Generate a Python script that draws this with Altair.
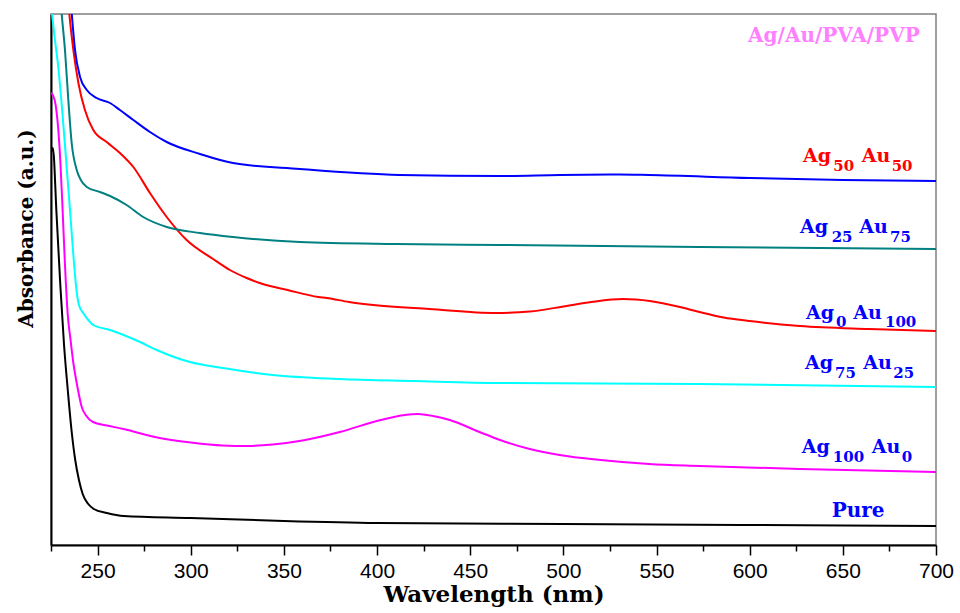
import altair as alt
import pandas as pd

# ---------------- data ----------------
x_tick_values = list(range(225, 701, 25))   # major every 50 nm (labelled), minor every 25 nm

series_names = ["Pure", "Ag100 Au0", "Ag75 Au25", "Ag0 Au100", "Ag25 Au75", "Ag50 Au50"]
series_colors = ["#000000", "#FF00FF", "#00FFFF", "#FF0000", "#008080", "#0000FF"]

pure_wl = [225, 226, 228, 230, 232, 234, 236, 238, 240, 242, 245, 248, 255, 264, 300, 350, 400, 500, 600, 700]
pure_abs = [3.93, 3.97, 3.30, 2.60, 2.00, 1.55, 1.15, 0.85, 0.65, 0.51, 0.41, 0.36, 0.32, 0.29, 0.27, 0.24,
            0.22, 0.21, 0.20, 0.19]

ag100_wl = [225, 226, 227.5, 229.5, 231, 232.5, 234, 235.5, 237, 239, 241.5, 244, 247.5, 255, 264, 282, 300,
            317, 330, 344, 360, 380, 402, 415, 422, 430, 439, 455, 466, 482, 498, 520, 546, 573, 627, 700]
ag100_abs = [4.52, 4.50, 4.40, 4.00, 3.45, 2.80, 2.30, 2.05, 1.82, 1.60, 1.38, 1.29, 1.23, 1.195, 1.16, 1.075,
             1.025, 0.995, 0.99, 1.005, 1.045, 1.13, 1.25, 1.30, 1.31, 1.29, 1.25, 1.13, 1.05, 0.96, 0.90, 0.85,
             0.81, 0.79, 0.76, 0.73]

ag75_wl = [225, 227, 228.9, 231, 233.4, 235, 237, 238.8, 240, 242.3, 245, 247.7, 256.7, 272.8, 281.7, 299.6,
           317.3, 344, 380, 420, 466, 573, 700]
ag75_abs = [5.40, 5.07, 4.78, 4.35, 3.78, 3.40, 2.90, 2.53, 2.40, 2.32, 2.25, 2.20, 2.15, 2.03, 1.95, 1.83,
            1.77, 1.70, 1.66, 1.64, 1.62, 1.61, 1.58]

ag0_wl = [232, 234.8, 237, 239.7, 243.2, 247.7, 254.9, 262, 269.2, 278.1, 287.1, 297.8, 312, 321, 330, 337,
          352, 368.5, 373, 385, 398, 428, 464, 482, 500, 515, 532, 546.5, 562.6, 573, 586, 600, 627, 664, 700]
ag0_abs = [6.05, 5.32, 4.95, 4.62, 4.35, 4.15, 4.03, 3.92, 3.78, 3.52, 3.28, 3.05, 2.86, 2.75, 2.67, 2.62,
           2.55, 2.48, 2.47, 2.43, 2.40, 2.36, 2.32, 2.335, 2.385, 2.43, 2.46, 2.44, 2.38, 2.33, 2.275, 2.24,
           2.19, 2.16, 2.14]

ag25_wl = [228, 230.7, 232.5, 234.3, 236.1, 238.8, 241, 244.2, 251.3, 256.7, 265.6, 274.5, 287.1, 305, 322.7,
           358.6, 410, 466, 573, 700]
ag25_abs = [6.05, 5.32, 4.95, 4.45, 4.02, 3.75, 3.65, 3.58, 3.53, 3.49, 3.40, 3.28, 3.18, 3.12, 3.08, 3.03,
            3.01, 3.00, 2.98, 2.96]

ag50_wl = [233, 236.1, 237.9, 240.6, 244.2, 249.5, 256.7, 262, 269.2, 278.1, 287.1, 305, 322.7, 358.6, 412,
           466, 498, 530, 546, 600, 650, 700]
ag50_abs = [6.05, 5.32, 4.95, 4.68, 4.55, 4.47, 4.42, 4.35, 4.25, 4.13, 4.03, 3.91, 3.82, 3.76, 3.70, 3.69,
            3.70, 3.705, 3.70, 3.67, 3.65, 3.64]

# labels: pieces (main text / subscripts), anchored at data coordinates
label_text = ["Ag/Au/PVA/PVP",
              "Ag", "50", "Au", "50",
              "Ag", "25", "Au", "75",
              "Ag", "0", "Au", "100",
              "Ag", "75", "Au", "25",
              "Ag", "100", "Au", "0",
              "Pure"]
label_wl = [645.2,
            628.6, 644.9, 660.1, 676.2,
            627.0, 644.0, 658.8, 675.3,
            630.2, 646.3, 655.6, 672.6,
            629.7, 645.8, 661.0, 677.1,
            627.9, 644.6, 665.5, 681.6,
            644.0]
label_abs = [5.033,
             3.833, 3.74, 3.833, 3.74,
             3.12, 3.03, 3.12, 3.03,
             2.265, 2.185, 2.265, 2.185,
             1.76, 1.675, 1.76, 1.675,
             0.917, 0.833, 0.917, 0.833,
             0.277]
label_role = ["head",
              "main", "sub", "main", "sub",
              "main", "sub", "main", "sub",
              "main", "sub", "main", "sub",
              "main", "sub", "main", "sub",
              "main", "sub", "main", "sub",
              "pure"]
label_color = ["#FF80FF"] + ["#FF0000"] * 4 + ["#0000FF"] * 17

# ---------------- build tables ----------------
all_wl = [pure_wl, ag100_wl, ag75_wl, ag0_wl, ag25_wl, ag50_wl]
all_abs = [pure_abs, ag100_abs, ag75_abs, ag0_abs, ag25_abs, ag50_abs]
frames = []
for name, wl, ab in zip(series_names, all_wl, all_abs):
    frames.append(pd.DataFrame({"wl": wl, "abs": ab, "series": name}))
df_lines = pd.concat(frames, ignore_index=True)

df_labels = pd.DataFrame({"wl": label_wl, "abs": label_abs, "txt": label_text,
                          "role": label_role, "col": label_color})

SERIF = "DejaVu Serif"

x_enc = alt.X(
    "wl:Q",
    scale=alt.Scale(domain=[225, 700], nice=False, zero=False),
    axis=alt.Axis(
        values=x_tick_values,
        labelExpr="datum.value % 50 == 0 ? datum.label : ''",
        tickSize={"condition": {"test": "datum.value % 50 == 0", "value": 10}, "value": 6},
        tickColor="#000000",
        tickWidth=1.5,
        domainColor="#000000",
        domainWidth=2,
        grid=False,
        labelFont="Liberation Sans",
        labelFontSize=21,
        labelColor="#000000",
        labelPadding=5,
        labelFlush=False,
        labelOverlap=False,
        title="Wavelength (nm)",
        titleFont=SERIF,
        titleFontWeight="bold",
        titleFontSize=23,
        titleColor="#000000",
        titleBaseline="alphabetic",
        titleY=56,
    ),
)
y_enc = alt.Y(
    "abs:Q",
    scale=alt.Scale(domain=[0, 5.31], nice=False, zero=False),
    axis=alt.Axis(
        ticks=False,
        labels=False,
        grid=False,
        domainColor="#000000",
        domainWidth=2,
        title="Absorbance (a.u.)",
        titleFont=SERIF,
        titleFontWeight="bold",
        titleFontSize=20,
        titleColor="#000000",
        titleBaseline="alphabetic",
        titleX=-19,
        titleY=214,
        titleAngle=270,
    ),
)

lines = alt.Chart(df_lines).mark_line(clip=True, strokeWidth=2, interpolate="monotone").encode(
    x=x_enc,
    y=y_enc,
    color=alt.Color("series:N", scale=alt.Scale(domain=series_names, range=series_colors), legend=None),
)

def text_layer(role, size, align):
    return alt.Chart(df_labels).transform_filter(alt.datum.role == role).mark_text(
        font=SERIF, fontWeight="bold", fontSize=size, align=align, baseline="alphabetic"
    ).encode(
        x=alt.X("wl:Q"),
        y=alt.Y("abs:Q"),
        text="txt:N",
        color=alt.Color("col:N", scale=None),
    )

chart = alt.layer(
    lines,
    text_layer("main", 19, "left"),
    text_layer("sub", 15, "left"),
    text_layer("pure", 20, "left"),
    text_layer("head", 20, "center"),
).resolve_scale(color="independent").properties(
    width=885,
    height=531,
    autosize=alt.AutoSizeParams(type="none"),
    padding={"left": 51, "top": 14, "right": 24, "bottom": 68},
    background="#FFFFFF",
).configure_view(stroke="#808080", strokeWidth=1.5)

chart.save("out.html", embed_options={"renderer": "svg", "actions": False})
